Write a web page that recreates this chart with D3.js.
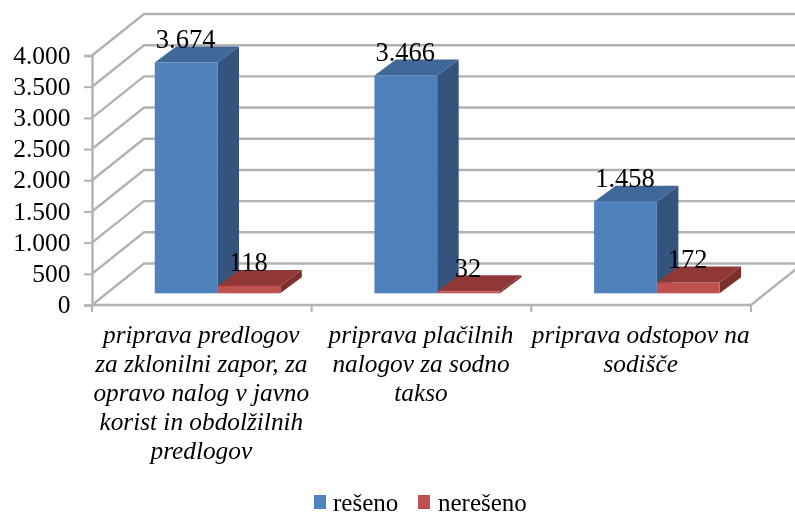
<!DOCTYPE html>
<html><head><meta charset="utf-8">
<style>html,body{margin:0;padding:0;background:#fff}svg{display:block;filter:blur(0.5px)}
text{font-family:"Liberation Serif",serif;fill:#000}</style>
<script src="https://cdn.jsdelivr.net/npm/d3@7"></script></head><body>
<svg id="c" width="795" height="513"></svg>
<script>
const categories=["a","b","c"];
const categoryLines=[
 ["priprava predlogov","za zklonilni zapor, za","opravo nalog v javno","korist in obdolžilnih","predlogov"],
 ["priprava plačilnih","nalogov za sodno","takso"],
 ["priprava odstopov na","sodišče"]];
const seriesNames=["rešeno","nerešeno"];
const resenoValues=[3674,3466,1458];
const neresenoValues=[118,32,172];
const yTicks=[0,500,1000,1500,2000,2500,3000,3500,4000];
const seriesValues=[resenoValues,neresenoValues];
const colors=[{front:"#4f81bd",top:"#3f6797",side:"#34547e"},{front:"#c0504d",top:"#8f3836",side:"#7b302e"}];
const grid="#b2b2b2";
const svg=d3.select("#c");
const y=d3.scaleLinear().domain([0,4000]).range([305,55.5]);
const yBar=d3.scaleLinear().domain([0,4000]).range([293.3,42]);
const dX=52,dY=-41.5,bX=21.5,bY=-16;
const x0=d3.scaleBand().domain(categories).range([92,751]);
const x1=d3.scaleBand().domain(seriesNames).range([0,x0.bandwidth()]).paddingInner(0).paddingOuter(0.75).align(2/3);
const fmt=d3.formatLocale({decimal:",",thousands:".",grouping:[3],currency:["",""]}).format(",d");
// walls
const g=svg.append("g").attr("fill","none").attr("stroke",grid).attr("stroke-width",2.4);
yTicks.forEach(v=>{
  const p=d3.path();p.moveTo(92,y(v));p.lineTo(92+dX,y(v)+dY);p.lineTo(810,y(v)+dY);
  g.append("path").attr("d",p.toString());
});
const fl=d3.path();fl.moveTo(92,y(0));fl.lineTo(751,y(0));fl.lineTo(751+dX,y(0)+dY);
g.append("path").attr("d",fl.toString());
// axes
const ax=d3.axisLeft(y).tickValues(yTicks).tickFormat(fmt).tickSize(8).tickPadding(13.5);
const ay=svg.append("g").attr("transform","translate(92,0)").call(ax);
ay.select(".domain").attr("stroke",grid).attr("stroke-width",2.4);
ay.selectAll("line").attr("stroke",grid).attr("stroke-width",2);
ay.selectAll("text").attr("font-size",25.5).attr("dy","0.3em").style("font-family","Liberation Serif");
[0,1,2,3].forEach(i=>{
  const xx=i<3?x0(categories[i]):751;
  svg.append("line").attr("x1",xx).attr("x2",xx).attr("y1",305).attr("y2",312).attr("stroke",grid).attr("stroke-width",2);
});
// bars
const base=yBar(0);
categories.forEach((c,i)=>{
  seriesNames.forEach((s,j)=>{
    const v=seriesValues[j][i],c2=colors[j];
    const l=x0(c)+x1(s),r=l+x1.bandwidth(),t=yBar(v);
    const pts=a=>a.map(q=>q.join(",")).join(" ");
    svg.append("polygon").attr("points",pts([[r,base],[r+bX,base+bY],[r+bX,t+bY],[r,t]])).attr("fill",c2.side);
    svg.append("polygon").attr("points",pts([[l,t],[l+bX,t+bY],[r+bX,t+bY],[r,t]])).attr("fill",c2.top);
    svg.append("rect").attr("x",l).attr("y",t).attr("width",r-l).attr("height",base-t).attr("fill",c2.front);
  });
});
// value labels on top
categories.forEach((c,i)=>{
  seriesNames.forEach((s,j)=>{
    const v=seriesValues[j][i],l=x0(c)+x1(s);
    svg.append("text").attr("x",l+x1.bandwidth()/2-0.5).attr("y",yBar(v)-14.5)
      .attr("text-anchor","middle").attr("font-size",26.5).text(fmt(v));
  });
});
// category labels
categories.forEach((c,i)=>{
  const t=svg.append("text").attr("text-anchor","middle").attr("font-size",25.3).attr("font-style","italic");
  categoryLines[i].forEach((ln,k)=>t.append("tspan").attr("x",x0(c)+x0.bandwidth()/2-0.5).attr("y",343+k*29).text(ln));
});
// legend
const lx=[314,418],tx=[333,438];
seriesNames.forEach((s,j)=>{
  svg.append("rect").attr("x",lx[j]).attr("y",495).attr("width",12).attr("height",14).attr("fill",colors[j].front);
  svg.append("text").attr("x",tx[j]).attr("y",511).attr("font-size",25).text(s);
});
</script></body></html>
